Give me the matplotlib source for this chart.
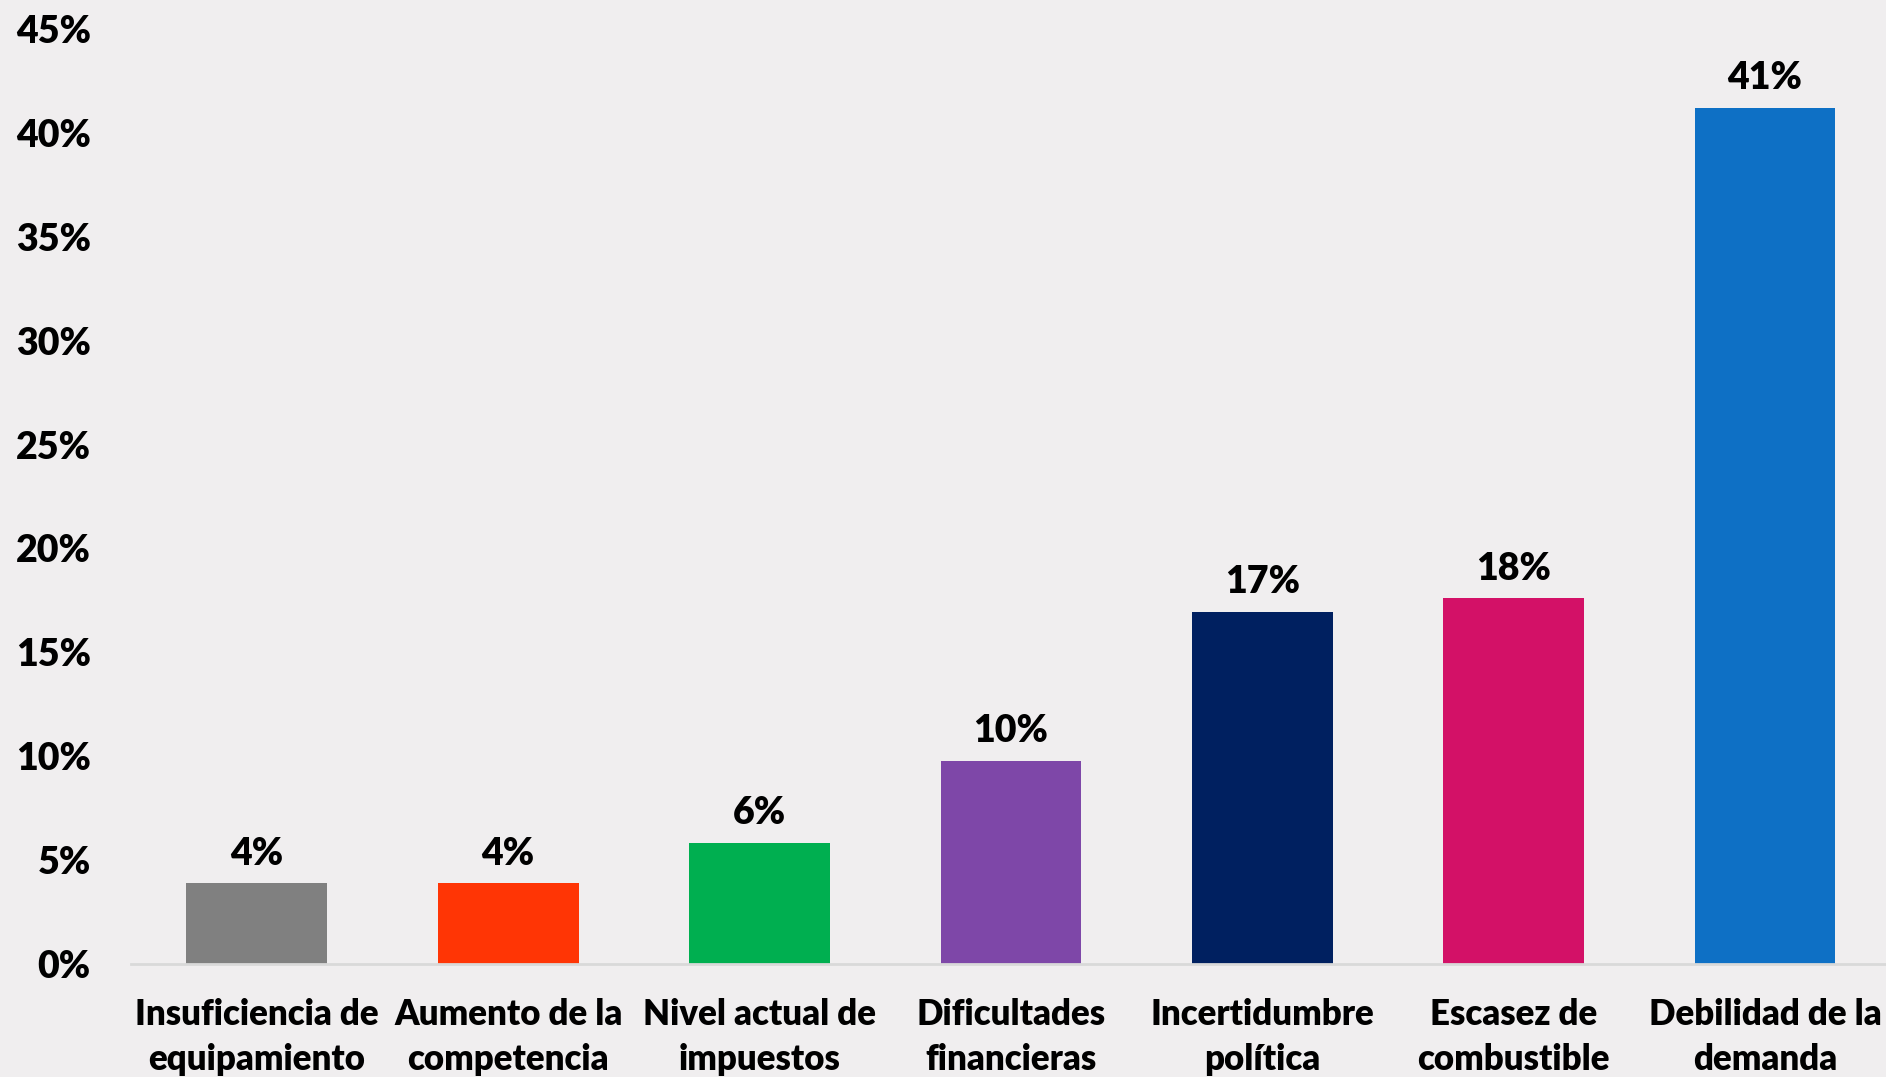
import matplotlib as mpl
import matplotlib.pyplot as plt
from matplotlib.ticker import MultipleLocator, FuncFormatter

mpl.rcParams['font.family'] = ['Lato', 'DejaVu Sans']
mpl.rcParams['font.weight'] = 'bold'

categorias = ['Insuficiencia de\nequipamiento', 'Aumento de la\ncompetencia',
              'Nivel actual de\nimpuestos', 'Dificultades\nfinancieras',
              'Incertidumbre\npolítica', 'Escasez de\ncombustible',
              'Debilidad de la\ndemanda']
valores = [3.9, 3.9, 5.85, 9.8, 16.95, 17.6, 41.2]
etiquetas = ['4%', '4%', '6%', '10%', '17%', '18%', '41%']
colores = ['#808080', '#FF3505', '#00AF50', '#7E47A8', '#002060', '#D31167', '#0E70C5']

fondo = '#F0EEEF'
peso = 'heavy'

fig = plt.figure(figsize=(18.86, 10.77), dpi=100, facecolor=fondo)
ax = fig.add_axes([0.0695, 0.1045, 0.933, 0.869])
ax.set_facecolor(fondo)

x = range(len(categorias))
bars = ax.bar(x, valores, width=0.56, color=colores, zorder=2)

for b, t in zip(bars, etiquetas):
    ax.annotate(t, (b.get_x() + b.get_width() / 2, b.get_height()),
                xytext=(0, 9), textcoords='offset points',
                ha='center', va='bottom', fontsize=27, fontweight=peso)

ax.set_xlim(-0.5, len(categorias) - 0.5)
ax.set_ylim(0, 45)
ax.yaxis.set_major_locator(MultipleLocator(5))
ax.yaxis.set_major_formatter(FuncFormatter(lambda v, p: '%d%%' % v))
ax.set_xticks(list(x))
ax.set_xticklabels(categorias, fontsize=25, fontweight=peso, linespacing=1.45)

for s in ['top', 'right', 'left']:
    ax.spines[s].set_visible(False)
ax.spines['bottom'].set_color('#D9D9D9')
ax.spines['bottom'].set_linewidth(2)
ax.tick_params(axis='both', length=0)
ax.tick_params(axis='y', labelsize=27, pad=29)
ax.tick_params(axis='x', pad=24)
for lab in ax.get_yticklabels():
    lab.set_fontweight(peso)

fig.savefig('out.png', dpi=100, facecolor=fondo)
